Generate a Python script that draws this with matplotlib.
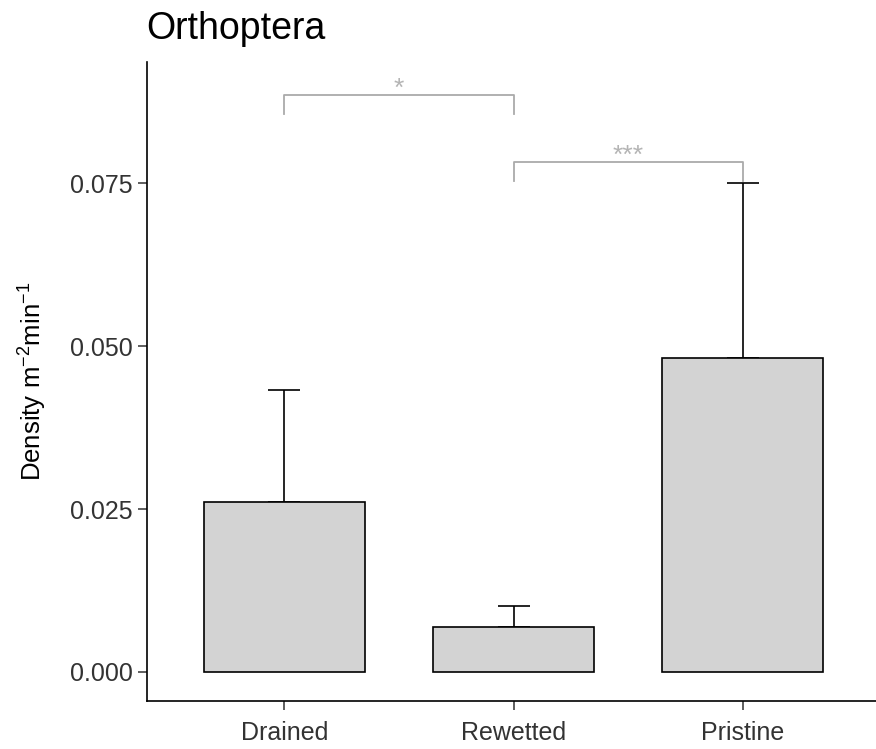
import matplotlib
matplotlib.use('Agg')
import matplotlib.pyplot as plt
import numpy as np

plt.rcParams['font.family'] = ['Liberation Sans', 'DejaVu Sans']
plt.rcParams['mathtext.fontset'] = 'custom'
plt.rcParams['mathtext.rm'] = 'Liberation Sans'
plt.rcParams['mathtext.default'] = 'regular'

habitats = ['Drained', 'Rewetted', 'Pristine']
density = [0.0261, 0.0069, 0.0482]
upper_err = [0.0171, 0.0032, 0.0268]

# significance brackets: (from, to, bracket height, label)
comparisons = [(0, 1, 0.0885, '*'), (1, 2, 0.0782, '***')]
bracket_drop = 0.0029

fig = plt.figure(figsize=(8.76, 7.49), dpi=100)
ax = fig.add_axes([147 / 876, 1 - 701 / 749, (880 - 147) / 876, (701 - 62) / 749])

x = np.arange(1, len(habitats) + 1)
ax.bar(x, density, width=0.7, color='#d3d3d3', edgecolor='black', linewidth=1.2, zorder=2)
ax.errorbar(x, density, yerr=[np.zeros(len(x)), upper_err], fmt='none',
            ecolor='black', elinewidth=1.2, capsize=11.5, capthick=1.2, zorder=1)

for i, j, h, lab in comparisons:
    xi, xj = x[i], x[j]
    ax.plot([xi, xi, xj, xj], [h - bracket_drop, h, h, h - bracket_drop],
            color='#aaaaaa', linewidth=1.3, zorder=3)
    ax.text((xi + xj) / 2, h - 0.0008, lab, ha='center', va='bottom',
            color='#b4b4b4', fontsize=19)

ax.set_xlim(0.4, 3.6)
ax.set_ylim(-0.00445, 0.0936)
ax.set_xticks(x)
ax.set_xticklabels(habitats)
ax.set_yticks([0, 0.025, 0.05, 0.075])
ax.set_yticklabels(['0.000', '0.025', '0.050', '0.075'])
ax.tick_params(axis='both', labelsize=18, colors='#333333', length=6.5, width=1.1)
ax.tick_params(axis='y', pad=4)
ax.tick_params(axis='x', pad=8)
ax.set_ylabel('Density m$^{-2}$min$^{-1}$', fontsize=18.5)
ax.yaxis.set_label_coords(-(147 - 49) / 733, 0.5)

for side in ['top', 'right']:
    ax.spines[side].set_visible(False)
for side in ['left', 'bottom']:
    ax.spines[side].set_linewidth(1.2)
    ax.spines[side].set_color('black')

fig.text(146 / 876, 1 - 39 / 749, 'Orthoptera', fontsize=27, ha='left', va='baseline')

fig.savefig('out.png', dpi=100)
